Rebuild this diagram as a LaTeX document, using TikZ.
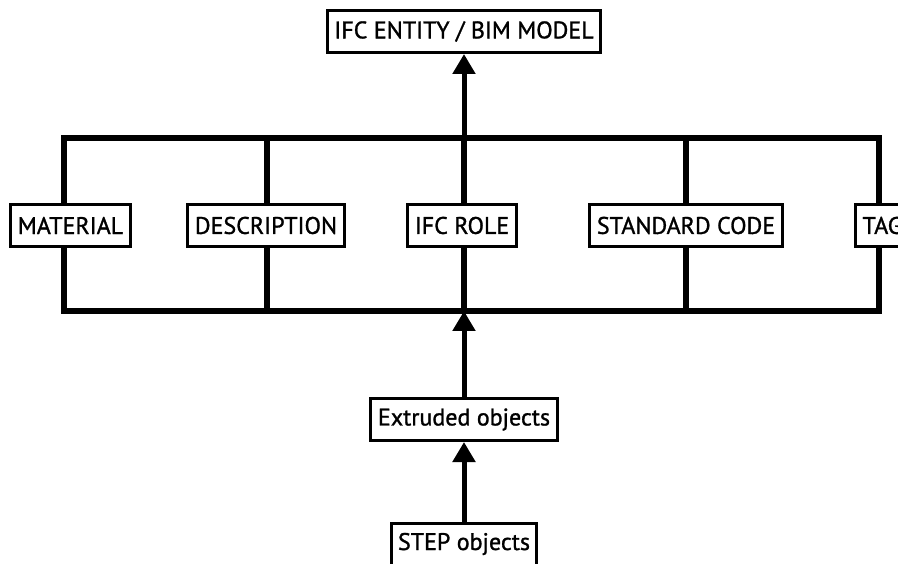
\documentclass[tikz,border=0pt]{standalone}
\usepackage{fontspec}
\setmainfont[FakeBold=1.2]{PT Sans}
\usetikzlibrary{arrows.meta}
\begin{document}
\begin{tikzpicture}[x=1pt,y=-1pt,
  lab/.style={draw=black, line width=3pt, fill=white, minimum height=42pt,
    inner xsep=7pt, inner ysep=0pt, font=\fontsize{24}{24}\selectfont},
  frameline/.style={line width=6pt, line join=miter},
  arr/.style={line width=5pt, -{Triangle[width=22pt,length=20pt]}}]
\useasboundingbox (0,0) rectangle (898,564);
\clip (0,0) rectangle (898,564);
% frame
\coordinate (ft) at (464,138.5);
\coordinate (fb) at (464,311);
\draw[frameline] (64,138.5) rectangle (879,311);
\draw[frameline] (267,138.5) -- (267,311);
\draw[frameline] (ft) -- (fb);
\draw[frameline] (686,138.5) -- (686,311);
% labels
\node[lab] (mat) at (70.5,225.5) {MATERIAL};
\node[lab] (desc) at (266,225.5) {DESCRIPTION};
\node[lab] (role) at (462,225.5) {IFC ROLE};
\node[lab] (std) at (686,225.5) {STANDARD CODE};
\node[lab, anchor=west] (tag) at (854,225.5) {TAG};
% top/bottom boxes
\node[lab] (top) at (464,31.5) {IFC ENTITY / BIM MODEL};
\node[lab] (ext) at (464,419.5) {Extruded objects};
\node[lab] (step) at (464,544) {STEP objects};
% arrows
\draw[arr] (ft) -- (top.south);
\draw[arr] (ext.north) -- (fb);
\draw[arr] (step.north) -- (ext.south);
\end{tikzpicture}
\end{document}
